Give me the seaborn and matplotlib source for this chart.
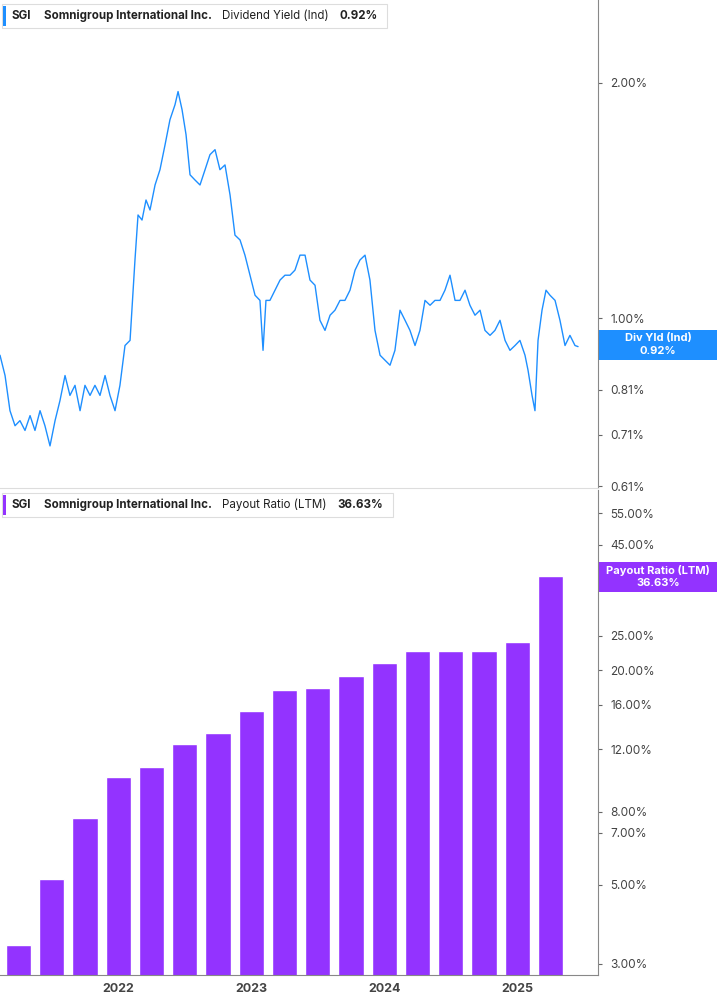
import matplotlib
matplotlib.use("Agg")
import matplotlib.pyplot as plt
import seaborn as sns
import pandas as pd
import numpy as np
from matplotlib.ticker import FixedLocator, NullLocator

# ---------------- data ----------------
yield_years = [2021.110,2021.148,2021.185,2021.223,2021.260,2021.298,2021.336,2021.373,2021.411,2021.448,
 2021.486,2021.524,2021.561,2021.599,2021.636,2021.674,2021.712,2021.749,2021.787,2021.824,
 2021.862,2021.900,2021.937,2021.975,2022.012,2022.050,2022.088,2022.125,2022.148,2022.178,
 2022.208,2022.238,2022.276,2022.313,2022.351,2022.388,2022.426,2022.449,2022.479,2022.509,
 2022.539,2022.576,2022.614,2022.652,2022.689,2022.727,2022.764,2022.802,2022.840,2022.877,
 2022.915,2022.952,2022.990,2023.028,2023.065,2023.088,2023.110,2023.140,2023.178,2023.216,
 2023.253,2023.291,2023.328,2023.366,2023.404,2023.441,2023.479,2023.516,2023.554,2023.592,
 2023.629,2023.667,2023.704,2023.742,2023.780,2023.817,2023.855,2023.892,2023.930,2023.968,
 2024.005,2024.043,2024.080,2024.118,2024.156,2024.193,2024.231,2024.268,2024.306,2024.344,
 2024.381,2024.419,2024.456,2024.494,2024.532,2024.569,2024.607,2024.644,2024.682,2024.720,
 2024.757,2024.795,2024.832,2024.870,2024.908,2024.945,2024.983,2025.020,2025.058,2025.081,
 2025.111,2025.133,2025.156,2025.186,2025.216,2025.246,2025.284,2025.321,2025.359,2025.396,
 2025.434,2025.457]
yield_pct = [.897,.845,.762,.729,.740,.719,.751,.719,.762,.729,
 .687,.740,.785,.845,.797,.821,.762,.821,.797,.821,
 .797,.845,.797,.762,.821,.923,.937,1.187,1.355,1.335,
 1.416,1.375,1.480,1.548,1.665,1.793,1.874,1.948,1.847,1.716,
 1.525,1.502,1.480,1.548,1.618,1.642,1.548,1.570,1.437,1.277,
 1.259,1.204,1.135,1.070,1.054,.910,1.054,1.054,1.086,1.119,
 1.135,1.135,1.152,1.204,1.204,1.119,1.102,.994,.965,1.009,
 1.024,1.054,1.054,1.086,1.152,1.187,1.204,1.119,.965,.897,
 .884,.871,.910,1.024,.994,.965,.923,.965,1.054,1.039,
 1.054,1.054,1.086,1.135,1.054,1.054,1.086,1.039,1.009,1.024,
 .965,.951,.965,.994,.937,.910,.923,.937,.897,.858,
 .797,.762,.937,1.024,1.086,1.070,1.054,.994,.923,.951,
 .923,.920]

payout_years = [2021.25,2021.5,2021.75,2022.0,2022.25,2022.5,2022.75,2023.0,2023.25,
 2023.5,2023.75,2024.0,2024.25,2024.5,2024.75,2025.0,2025.25]
payout_pct = [3.39,5.2,7.71,10.05,10.7,12.4,13.3,15.4,17.6,17.85,19.2,21.0,22.6,22.6,22.6,24.0,36.63]

top_ticks = [0.61,0.71,0.81,1.00,2.00]
bot_ticks = [3,5,7,8,12,16,20,25,45,55]
year_ticks = [2022,2023,2024,2025]

BLUE = "#1e8fff"
PURPLE = "#9333ff"
W, H = 717, 1005
sns.set_style("white")
plt.rcParams["font.family"] = "Inter"
fig = plt.figure(figsize=(W/100, H/100), dpi=100)

def frac(l, t, r, b):
    return [l/W, 1-b/H, (r-l)/W, (b-t)/H]

ax1 = fig.add_axes(frac(0, 0, 598, 488))
ax2 = fig.add_axes(frac(0, 490, 598, 975))
xlim = (2021.11, 2025.607)

df1 = pd.DataFrame({"year": yield_years, "v": yield_pct})
sns.lineplot(data=df1, x="year", y="v", ax=ax1, color=BLUE, lw=1.0)
ax1.set_yscale("log")
ax1.set_ylim(0.607, 2.55)

ax2.bar(payout_years, payout_pct, width=0.19, color=PURPLE, align="center")
ax2.set_yscale("log")
ax2.set_ylim(2.79, 64)

for ax in (ax1, ax2):
    ax.set_xlim(*xlim)
    ax.set_xlabel(""); ax.set_ylabel("")
    ax.yaxis.tick_right()
    ax.yaxis.set_minor_locator(NullLocator())
    for s in ("top", "left"):
        ax.spines[s].set_visible(False)
    ax.spines["right"].set_color("#888888")
    ax.spines["bottom"].set_color("#dddddd")
    ax.tick_params(axis="y", length=3, color="#666666", labelsize=8.5, labelcolor="#444444", pad=6)

ax1.yaxis.set_major_locator(FixedLocator(top_ticks))
ax1.set_yticklabels([f"{t:.2f}%" for t in top_ticks])
ax1.set_xticks([])
ax2.yaxis.set_major_locator(FixedLocator(bot_ticks))
ax2.set_yticklabels([f"{t:.2f}%" for t in bot_ticks])
ax2.set_xticks(year_ticks)
ax2.set_xticklabels([str(y) for y in year_ticks], fontweight="bold", fontsize=9, color="#444444")
ax2.tick_params(axis="x", length=0, pad=6)
ax2.spines["bottom"].set_color("#888888")

renderer = fig.canvas.get_renderer()

def legend(y, color, text_name, value):
    parts = [("SGI", "bold", 12), ("Somnigroup International Inc.", "bold", 11),
             (text_name, "normal", 10), (value, "bold", 10)]
    x = 12
    for s, wgt, gap in parts:
        t = fig.text(x/W, 1-y/H, s, fontsize=8.3, fontweight=wgt, va="center", color="#222222", zorder=11)
        x = t.get_window_extent(renderer).x1 + gap
    width = x - 2
    fig.patches.append(plt.Rectangle((2/W, 1-(y+12)/H), width/W, 24/H, transform=fig.transFigure,
                                     facecolor="white", edgecolor="#dddddd", lw=0.8, zorder=10))
    fig.patches.append(plt.Rectangle((3/W, 1-(y+10)/H), 3/W, 20/H, transform=fig.transFigure,
                                     facecolor=color, edgecolor="none", zorder=10.5))

legend(16, BLUE, "Dividend Yield (Ind)", "0.92%")
legend(505, PURPLE, "Payout Ratio (LTM)", "36.63%")

def tag(y, color, l1, l2):
    fig.patches.append(plt.Rectangle((599/W, 1-(y+15)/H), 118/W, 30/H, transform=fig.transFigure,
                                     facecolor=color, edgecolor="none", zorder=10))
    fig.text(658/W, 1-(y-7)/H, l1, fontsize=8, fontweight="bold", color="white", ha="center", va="center", zorder=11)
    fig.text(658/W, 1-(y+6)/H, l2, fontsize=8, fontweight="bold", color="white", ha="center", va="center", zorder=11)

tag(345, BLUE, "Div Yld (Ind)", "0.92%")
tag(577, PURPLE, "Payout Ratio (LTM)", "36.63%")

fig.savefig("out.png", dpi=100)
